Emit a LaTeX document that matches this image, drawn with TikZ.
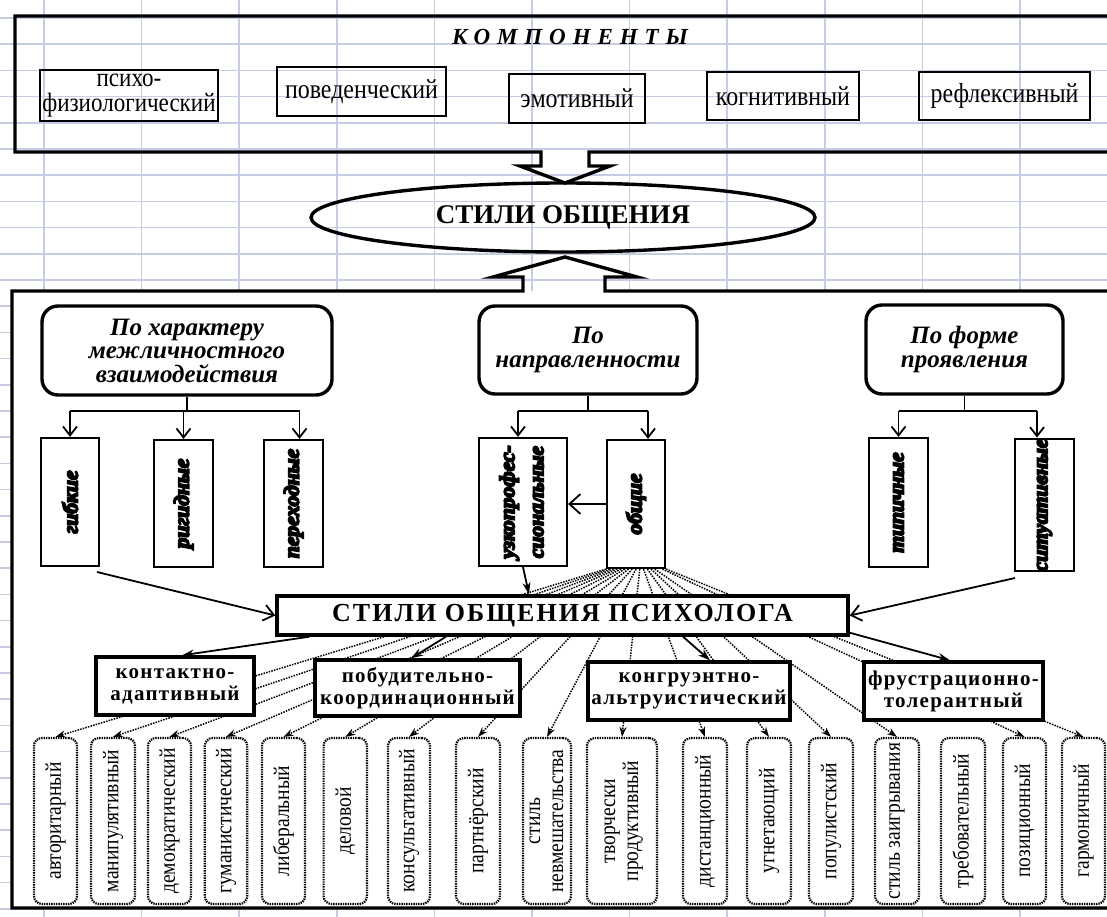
\documentclass[tikz,border=0pt]{standalone}
\usepackage{graphicx}
\usepackage{fontspec}
\setmainfont{Liberation Serif}
\newfontfamily\narrowserif[FakeStretch=0.87]{Liberation Serif}
\newfontfamily\spacedserif[LetterSpace=6]{Liberation Serif}
\newfontfamily\titleserif[LetterSpace=8]{Liberation Serif}
\newfontfamily\wideserif[LetterSpace=30]{Liberation Serif}
\usetikzlibrary{arrows.meta,shapes.geometric,calc}
\definecolor{gridblue}{RGB}{198,204,227}
\newcommand\setsize[2]{\fontsize{#1pt}{#2pt}\selectfont}
% heavy lettering: glyphs filled and stroked
\newcommand\heavyink[1]{\special{pdf:literal direct 2 Tr 1.7 w}#1\special{pdf:literal direct 0 Tr}}
\newcommand\vtext[1]{\rotatebox{90}{#1}}
\newcommand\vtwo[2]{\rotatebox{90}{\begin{tabular}{@{}c@{}}#1\\#2\end{tabular}}}

\begin{document}
\begin{tikzpicture}[x=1pt,y=-1pt,
  gridline/.style={draw=gridblue, line width=1.5pt},
  heavyframe/.style={line width=3.4pt, line join=miter},
  compbox/.style={draw, line width=2.4pt, inner sep=1pt, align=center, font=\narrowserif\setsize{27.5}{26}},
  headbox/.style={draw, line width=3.4pt, rounded corners=16pt, fill=white, inner sep=1pt, align=center, font=\setsize{25}{23.5}\bfseries\itshape},
  vbox/.style={draw, line width=2.2pt, fill=white, inner sep=0pt, font=\setsize{21.5}{29}\bfseries\itshape},
  catbox/.style={draw, line width=3.4pt, fill=white, inner sep=1pt, align=center, font=\spacedserif\setsize{21}{22}\bfseries},
  stylebox/.style={draw, line width=2.2pt, dash pattern=on 1.4pt off 1pt, rounded corners=8pt, fill=white, inner sep=0pt, minimum height=166pt, font=\narrowserif\setsize{22.5}{23}},
  conn/.style={line width=1.8pt},
  barbarrow/.style={conn, -{Straight Barb[length=9pt,width=14pt,line width=1.8pt]}},
  solidarrow/.style={conn, -{Stealth[length=12pt,width=8pt]}},
  dotarrow/.style={line width=1.5pt, dash pattern=on 1.5pt off 1.2pt, -{Stealth[length=10pt,width=7pt]}}
]
\useasboundingbox (0,0) rectangle (1107,917);
\clip (0,0) rectangle (1107,917);

% ruled background
\foreach \k in {0,...,34}{\draw[gridline] (0,{18+26.2*\k}) -- (1107,{18+26.2*\k});}
\foreach \k in {0,...,10}{\draw[gridline] ({44+97.6*\k},0) -- ({44+97.6*\k},917);}

% upper frame, open to the right, with the block arrow pointing down
\draw[heavyframe] (1120,16) -- (15,16) -- (15,152) -- (541,152) -- (541,166) -- (520,166)
  -- (565,183) -- (610,166) -- (589,166) -- (589,152) -- (1120,152);

\node[font=\wideserif\setsize{23}{23}\bfseries\itshape] (kt) at (570,37) {КОМПОНЕНТЫ};

\node[compbox, minimum width=178pt, minimum height=51pt, font=\narrowserif\setsize{26.5}{25.5}] (c1) at (129,95.5) {психо-\\физиологический};
\node[compbox, minimum width=169pt, minimum height=49pt] (c2) at (361.5,91.5) {поведенческий};
\node[compbox, minimum width=136pt, minimum height=49pt] (c3) at (577,98.5) {эмотивный};
\node[compbox, minimum width=152pt, minimum height=48pt] (c4) at (783,96) {когнитивный};
\node[compbox, minimum width=171pt, minimum height=48pt] (c5) at (1004.5,96) {рефлексивный};

\node[ellipse, draw, line width=3.4pt, minimum width=504pt, minimum height=69pt, inner sep=0pt,
  font=\setsize{27}{27}\bfseries] (styles) at (563,217.5) {СТИЛИ ОБЩЕНИЯ};

% lower frame with the block arrow pointing up
\fill[white] (12,291) rectangle (1120,908);
\draw[heavyframe] (1120,291) -- (605,291) -- (605,277) -- (637,277) -- (565,257) -- (493,277)
  -- (523,277) -- (523,291) -- (12,291) -- (12,908) -- (1120,908);

% classification headings
\node[headbox, minimum width=290pt, minimum height=89pt] (A) at (187,350.5) {По характеру\\межличностного\\взаимодействия};
\node[headbox, minimum width=218pt, minimum height=88pt] (B) at (588,350) {По\\направленности};
\node[headbox, minimum width=197pt, minimum height=89pt] (C) at (964.5,349.5) {По форме\\проявления};

% kinds of style
\node[vbox, minimum width=58pt, minimum height=128pt] (g1) at (70,502) {\vtext{\heavyink{гибкие}}};
\node[vbox, minimum width=59pt, minimum height=127pt] (g2) at (183.5,503.5) {\vtext{\heavyink{ригидные}}};
\node[vbox, minimum width=59pt, minimum height=127pt] (g3) at (293.5,503.5) {\vtext{\heavyink{переходные}}};
\node[vbox, minimum width=88pt, minimum height=128pt] (n1) at (523,502) {\vtwo{\heavyink{узкопрофес-}}{\heavyink{сиональные}}};
\node[vbox, minimum width=58pt, minimum height=128pt] (n2) at (636,504) {\vtext{\heavyink{общие}}};
\node[vbox, minimum width=59pt, minimum height=129pt] (f1) at (898.5,502.5) {\vtext{\heavyink{типичные}}};
\node[vbox, minimum width=59pt, minimum height=128pt] (f2) at (1044.5,505) {\vtext{\heavyink{ситуативные}}};

% branching connectors below the headings
\coordinate (treeY) at (0,411);
\coordinate (g3top) at ([xshift=6pt]g3.north);
\coordinate (n1top) at ([xshift=-5pt]n1.north);
\coordinate (n2top) at ([xshift=12pt]n2.north);
\coordinate (f2top) at ([xshift=-7.5pt]f2.north);
\draw[conn] (A.south) -- (A.south |- treeY);
\draw[conn] (g1.north |- treeY) -- (g3top |- treeY);
\draw[barbarrow] (g1.north |- treeY) -- (g1.north);
\draw[barbarrow] (g2.north |- treeY) -- (g2.north);
\draw[barbarrow] (g3top |- treeY) -- (g3top);
\draw[conn] (B.south) -- (B.south |- treeY);
\draw[conn] (n1top |- treeY) -- (n2top |- treeY);
\draw[barbarrow] (n1top |- treeY) -- (n1top);
\draw[barbarrow] (n2top |- treeY) -- (n2top);
\draw[conn] (C.south) -- (C.south |- treeY);
\draw[conn] (f1.north |- treeY) -- (f2top |- treeY);
\draw[barbarrow] (f1.north |- treeY) -- (f1.north);
\draw[barbarrow] (f2top |- treeY) -- (f2top);
\draw[conn, -{Straight Barb[length=11pt,width=20pt,line width=1.8pt]}] (n2.west) -- (n1.east |- n2.west);

% individual styles
\node[stylebox, minimum width=43pt] (b1) at (55.5,821) {\vtext{авторитарный}};
\node[stylebox, minimum width=44pt] (b2) at (113,821) {\vtext{манипулятивный}};
\node[stylebox, minimum width=43pt] (b3) at (169.5,821) {\vtext{демократический}};
\node[stylebox, minimum width=42.5pt] (b4) at (226,821) {\vtext{гуманистический}};
\node[stylebox, minimum width=43pt] (b5) at (283.5,821) {\vtext{либеральный}};
\node[stylebox, minimum width=43.4pt] (b6) at (345.3,821) {\vtext{деловой}};
\node[stylebox, minimum width=42pt] (b7) at (409,821) {\vtext{консультативный}};
\node[stylebox, minimum width=44pt] (b8) at (478,821) {\vtext{партнёрский}};
\node[stylebox, minimum width=48pt] (b9) at (547,821) {\vtwo{стиль}{невмешательства}};
\node[stylebox, minimum width=70pt] (b10) at (622,821) {\vtwo{творчески}{продуктивный}};
\node[stylebox, minimum width=44pt] (b11) at (705,821) {\vtext{дистанционный}};
\node[stylebox, minimum width=44pt] (b12) at (769,821) {\vtext{угнетающий}};
\node[stylebox, minimum width=44pt] (b13) at (831,821) {\vtext{популистский}};
\node[stylebox, minimum width=44pt] (b14) at (897,821) {\vtext{стиль заигрывания}};
\node[stylebox, minimum width=44pt] (b15) at (963,821) {\vtext{требовательный}};
\node[stylebox, minimum width=43pt] (b16) at (1024.5,821) {\vtext{позиционный}};
\node[stylebox, minimum width=43pt] (b17) at (1083.5,821) {\vtext{гармоничный}};

% dotted links from the general styles to each individual style
\foreach \b/\i in {b1/0,b2/1,b3/2,b4/3,b5/4,b6/5,b7/6,b8/7,b9/8,b10/9,b11/10,b12/11,b13/12,b14/13,b16/15,b17/16}
  \draw[dotarrow] ($(n2.south west)!{\i/16}!(n2.south east)$) -- (\b.north);

% psychologist's styles and their four groups
\node[draw, line width=3.4pt, fill=white, minimum width=571pt, minimum height=39pt, inner sep=0pt,
  font=\titleserif\setsize{26}{26}\bfseries] (P) at (562.5,615.5) {СТИЛИ ОБЩЕНИЯ ПСИХОЛОГА};
\node[catbox, minimum width=158pt, minimum height=58pt] (K) at (175,686) {контактно-\\адаптивный};
\node[catbox, minimum width=205pt, minimum height=56pt] (Pb) at (417.5,688) {побудительно-\\координационный};
\node[catbox, minimum width=202pt, minimum height=58pt] (Kg) at (689,691) {конгруэнтно-\\альтруистический};
\node[catbox, minimum width=179pt, minimum height=58pt] (F) at (953.5,691) {фрустрационно-\\толерантный};

\coordinate (gstart) at (97,572);
\coordinate (sstart) at (1015,578);
\draw[conn, -{Straight Barb[length=10pt,width=16pt,line width=1.8pt]}] (gstart) -- (P.west);
\draw[conn, -{Straight Barb[length=10pt,width=16pt,line width=1.8pt]}] (sstart) -- (P.east);
\draw[solidarrow] (n1.south) -- ([xshift=-33.5pt]P.north);

\draw[solidarrow] ([xshift=34pt]P.south west) -- ([xshift=7pt]K.north);
\draw[solidarrow] ([xshift=-116.5pt]P.south) -- ([xshift=-6.5pt]Pb.north);
\draw[solidarrow] ([xshift=120.5pt]P.south) -- ([xshift=21pt]Kg.north);
\draw[solidarrow] ([yshift=4pt]P.south east) -- ([xshift=-3.5pt]F.north);
\end{tikzpicture}
\end{document}
